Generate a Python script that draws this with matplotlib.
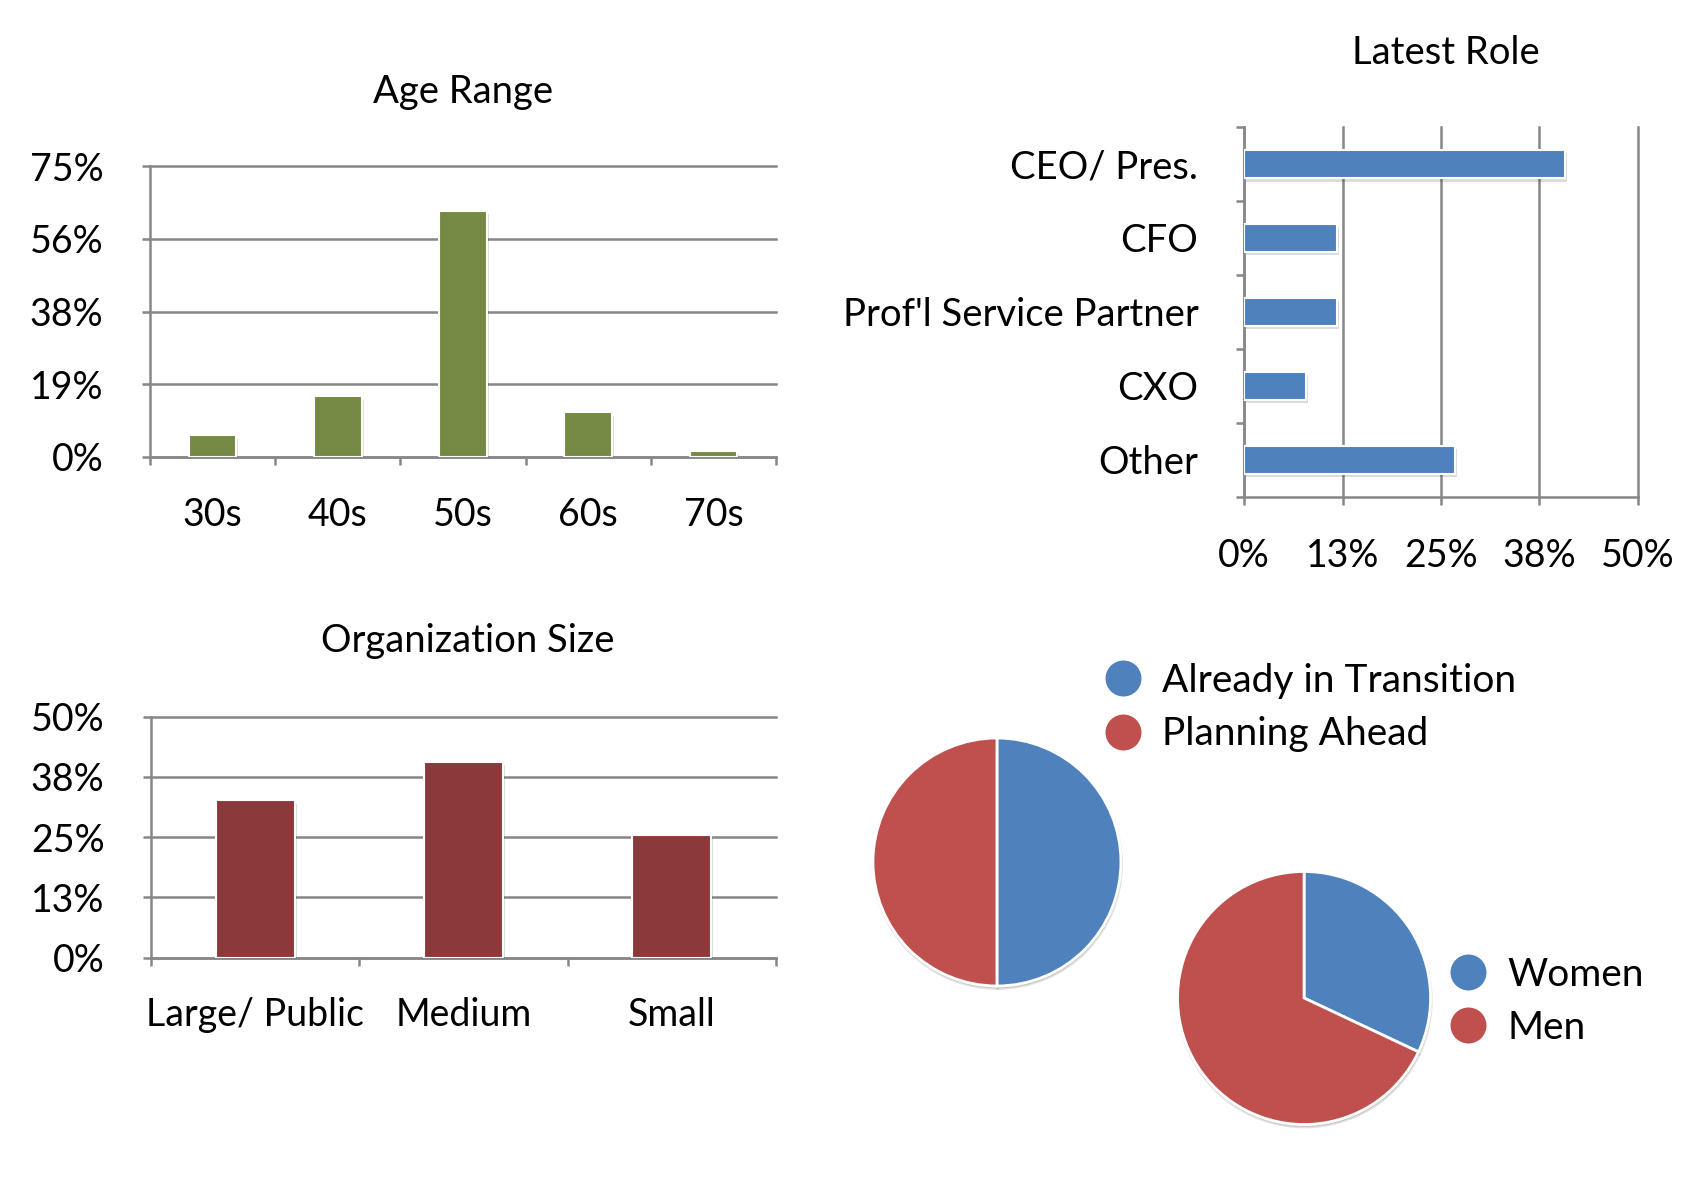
import matplotlib
matplotlib.use('Agg')
import matplotlib.pyplot as plt
from matplotlib.lines import Line2D
import matplotlib.patheffects as pe
import numpy as np

plt.rcParams['font.family'] = ['Lato', 'DejaVu Sans']

# ---------------- data ----------------
age_labels = ['30s', '40s', '50s', '60s', '70s']
age_values = [5.5, 15.6, 63.5, 11.5, 1.5]
age_ticks = [0, 18.75, 37.5, 56.25, 75]
age_ticklabels = ['0%', '19%', '38%', '56%', '75%']

role_labels = ['CEO/ Pres.', 'CFO', "Prof'l Service Partner", 'CXO', 'Other']
role_values = [40.7, 11.8, 11.8, 7.8, 26.8]
role_ticks = [0, 12.5, 25, 37.5, 50]
role_ticklabels = ['0%', '13%', '25%', '38%', '50%']

org_labels = ['Large/ Public', 'Medium', 'Small']
org_values = [32.7, 40.7, 25.5]
org_ticks = [0, 12.5, 25, 37.5, 50]
org_ticklabels = ['0%', '13%', '25%', '38%', '50%']

status_labels = ['Already in Transition', 'Planning Ahead']
status_values = [50, 50]
gender_labels = ['Women', 'Men']
gender_values = [32, 68]

# ---------------- style ----------------
GRID = '#878787'
GREEN = '#748A43'
DARKRED = '#8B3A3C'
BLUE = '#4F81BD'
RED = '#C0504D'
LW = 1.8
TICKFS = 27
TITLEFS = 27.5
LEGFS = 28

shadow_fx = [pe.SimplePatchShadow(offset=(1.5, -2.5), shadow_rgbFace='black', alpha=0.14), pe.Normal()]

fig = plt.figure(figsize=(16.98, 11.78), dpi=100)


def style_spines(ax):
    for s in ['top', 'right']:
        ax.spines[s].set_visible(False)
    for s in ['left', 'bottom']:
        ax.spines[s].set_color(GRID)
        ax.spines[s].set_linewidth(LW)


def vbar(rect, labels, values, ticks, ticklabels, color, xpad):
    ax = fig.add_axes(rect)
    n = len(labels)
    x = np.arange(n)
    bars = ax.bar(x, values, width=0.38, color=color, edgecolor='white', linewidth=1.5, zorder=3)
    for b in bars:
        b.set_path_effects(shadow_fx)
    ax.set_xlim(-0.5, n - 0.5)
    ax.set_ylim(0, ticks[-1])
    ax.set_yticks(ticks)
    ax.set_yticklabels(ticklabels)
    ax.set_xticks(x)
    ax.set_xticklabels(labels)
    ax.set_xticks(np.arange(n + 1) - 0.5, minor=True)
    ax.yaxis.grid(True, color=GRID, lw=LW)
    for gl in ax.get_ygridlines():
        gl.set_clip_on(False)
    ax.set_axisbelow(True)
    style_spines(ax)
    ax.tick_params(axis='x', which='major', length=0, pad=xpad, labelsize=TICKFS)
    ax.tick_params(axis='x', which='minor', length=5.5, width=LW, color=GRID, direction='out')
    ax.tick_params(axis='y', which='major', length=5.5, width=LW, color=GRID, pad=28, labelsize=TICKFS)
    return ax


# Age Range
ax1 = vbar([0.0883, 0.6124, 0.3687, 0.2463], age_labels, age_values, age_ticks,
           age_ticklabels, GREEN, 29)
fig.text(0.2727, 0.9126, 'Age Range', ha='center', va='baseline', fontsize=TITLEFS)

# Organization Size
ax3 = vbar([0.0889, 0.1870, 0.3681, 0.2046], org_labels, org_values, org_ticks,
           org_ticklabels, DARKRED, 28)
fig.text(0.2756, 0.4468, 'Organization Size', ha='center', va='baseline', fontsize=TITLEFS)

# Latest Role
ax2 = fig.add_axes([0.7327, 0.5784, 0.2318, 0.3137])
y = np.arange(len(role_labels))
hb = ax2.barh(y, role_values, height=0.38, color=BLUE, edgecolor='white', linewidth=1.5, zorder=3)
for b in hb:
    b.set_path_effects(shadow_fx)
ax2.set_ylim(len(role_labels) - 0.5, -0.5)
ax2.set_xlim(0, role_ticks[-1])
ax2.set_xticks(role_ticks)
ax2.set_xticklabels(role_ticklabels)
ax2.set_yticks(y)
ax2.set_yticklabels(role_labels)
ax2.set_yticks(np.arange(len(role_labels) + 1) - 0.5, minor=True)
ax2.xaxis.grid(True, color=GRID, lw=LW)
for gl in ax2.get_xgridlines():
    gl.set_clip_on(False)
ax2.set_axisbelow(True)
style_spines(ax2)
ax2.tick_params(axis='x', which='major', length=5.5, width=LW, color=GRID, pad=24, labelsize=TICKFS)
ax2.tick_params(axis='y', which='major', length=0, pad=33, labelsize=27.5)
ax2.tick_params(axis='y', which='minor', length=5.5, width=LW, color=GRID, direction='out')
fig.text(0.8516, 0.9457, 'Latest Role', ha='center', va='baseline', fontsize=TITLEFS)

# Pies
shadow_kw = {'ox': 0.004, 'oy': -0.014, 'shade': 0.9, 'alpha': 0.12}
ax4 = fig.add_axes([0.5141, 0.1630, 0.14605, 0.2105])
ax4.pie(status_values, colors=[BLUE, RED], startangle=90, counterclock=False,
        wedgeprops=dict(edgecolor='white', linewidth=2, clip_on=False), shadow=shadow_kw)
ax4.set_xlim(-1, 1)
ax4.set_ylim(-1, 1)
ax4.set_aspect('equal')
ax4.axis('off')

ax5 = fig.add_axes([0.6935, 0.0454, 0.149, 0.2148])
ax5.pie(gender_values, colors=[BLUE, RED], startangle=90, counterclock=False,
        wedgeprops=dict(edgecolor='white', linewidth=2, clip_on=False), shadow=shadow_kw)
ax5.set_xlim(-1, 1)
ax5.set_ylim(-1, 1)
ax5.set_aspect('equal')
ax5.axis('off')


def dot(c):
    return Line2D([0], [0], marker='o', ls='none', markersize=27.4, markerfacecolor=c,
                  markeredgecolor='white', markeredgewidth=1.5)


fig.legend(handles=[dot(BLUE), dot(RED)], labels=status_labels, loc='center left',
           bbox_to_anchor=(0.650, 0.3994), frameon=False, fontsize=LEGFS, handlelength=0.97,
           handletextpad=0.52, labelspacing=0.45, borderpad=0, borderaxespad=0)
fig.legend(handles=[dot(BLUE), dot(RED)], labels=gender_labels, loc='center left',
           bbox_to_anchor=(0.8534, 0.1500), frameon=False, fontsize=LEGFS, handlelength=0.97,
           handletextpad=0.52, labelspacing=0.45, borderpad=0, borderaxespad=0)

fig.savefig('out.png', dpi=100, facecolor='white')
